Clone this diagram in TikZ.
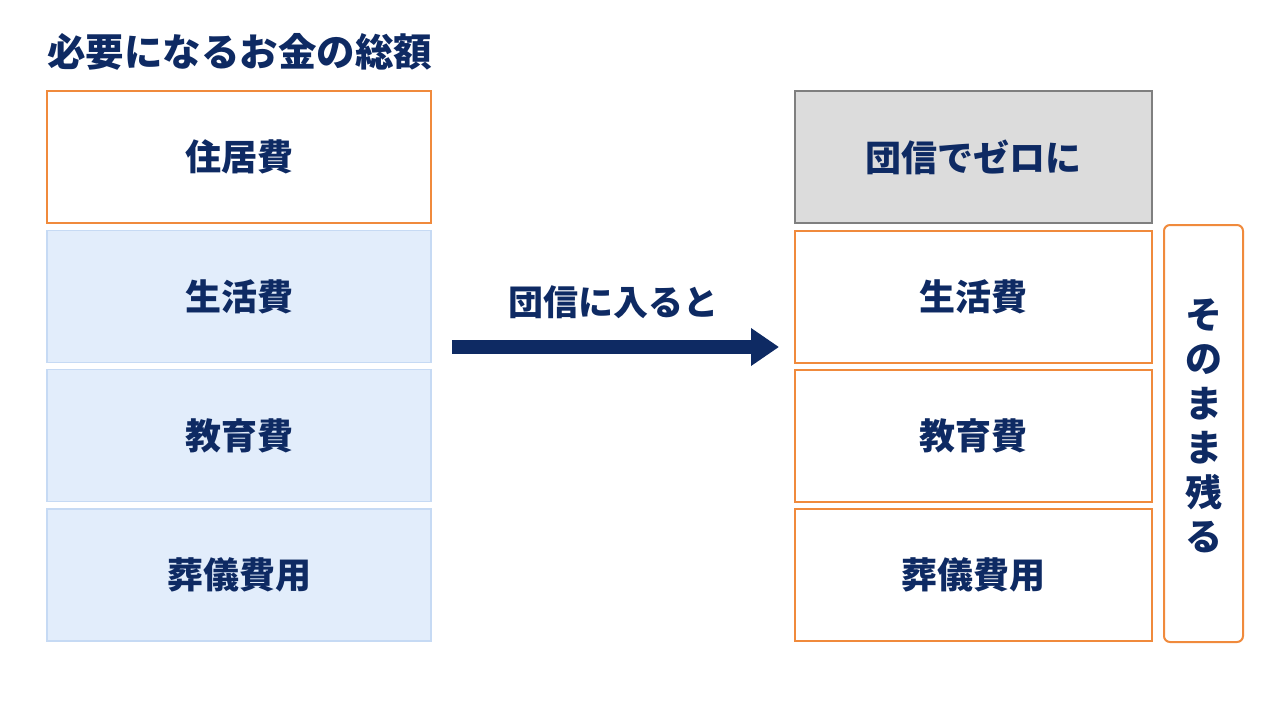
\documentclass[tikz,border=0pt]{standalone}
\usepackage{fontspec}
\setmainfont{Noto Sans CJK JP}
\usetikzlibrary{arrows.meta}
\definecolor{navy}{HTML}{0E2A63}
\definecolor{orng}{HTML}{F08A3C}
\definecolor{lbfill}{HTML}{E2EDFB}
\definecolor{lbdraw}{HTML}{C6DAF4}
\definecolor{gfill}{HTML}{DCDCDC}
\definecolor{gdraw}{HTML}{7F7F7F}
\tikzset{
  lbl/.style={text=navy, font=\fontsize{36pt}{40pt}\selectfont\bfseries},
  lbox/.style={lbl, minimum width=384pt, minimum height=132pt, inner sep=0pt},
  rbox/.style={lbl, minimum width=357pt, minimum height=132pt, inner sep=0pt},
  orangebox/.style={draw=orng, line width=2pt, fill=white},
  bluebox/.style={draw=lbdraw, line width=1.6pt, fill=lbfill},
  graybox/.style={draw=gdraw, line width=1.6pt, fill=gfill},
}
\begin{document}
\begin{tikzpicture}[x=1pt,y=-1pt]
\useasboundingbox[fill=white] (0,0) rectangle (1280,704);
\node[lbl, anchor=west, font=\fontsize{38.5pt}{40pt}\selectfont\bfseries, inner sep=0pt] (title) at (47,52) {必要になるお金の総額};
% left column
\node[lbox, orangebox] (l1) at (239,157) {住居費};
\node[lbox, bluebox] (l2) at (239,296.5) {生活費};
\node[lbox, bluebox] (l3) at (239,435.5) {教育費};
\node[lbox, bluebox] (l4) at (239,575) {葬儀費用};
% right column
\node[rbox, graybox] (r1) at (973.5,157) {団信でゼロに};
\node[rbox, orangebox] (r2) at (973.5,296.5) {生活費};
\node[rbox, orangebox] (r3) at (973.5,435.5) {教育費};
\node[rbox, orangebox] (r4) at (973.5,575) {葬儀費用};
\node[draw=orng, line width=2pt, rounded corners=6pt, minimum width=79pt, minimum height=417pt, inner sep=0pt] (side) at (1203.5,433.5) {};
\node[lbl, align=center, font=\fontsize{37pt}{44.5pt}\selectfont\bfseries] (sidetext) at (1203.5,426) {そ\\の\\ま\\ま\\残\\る};
% arrow
\coordinate (as) at (452,347);
\coordinate (ae) at (779,347);
\draw[navy, line width=14pt, -{Triangle[length=28pt,width=36pt]}] (as) -- (ae);
\node[lbl, font=\fontsize{35pt}{40pt}\selectfont\bfseries] (arrlbl) at (613,302) {団信に入ると};
\end{tikzpicture}
\end{document}
